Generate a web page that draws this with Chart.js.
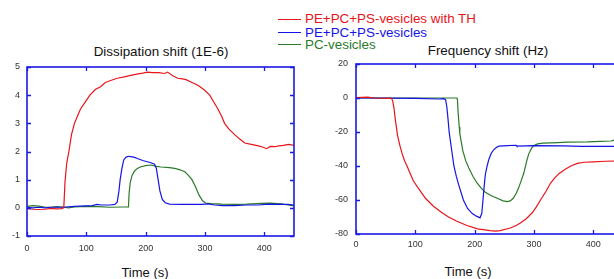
<!DOCTYPE html>
<html>
<head>
<meta charset="utf-8">
<script src="https://cdn.jsdelivr.net/npm/chart.js@4.4.1/dist/chart.umd.min.js"></script>
<style>
  html, body { margin: 0; padding: 0; width: 614px; height: 279px; overflow: hidden; background: #fff; }
  body { position: relative; font-family: "Liberation Sans", Arial, sans-serif; }
  .box { position: absolute; top: 0; }
  .txt { position: absolute; white-space: nowrap; color: #111; line-height: 1; transform: translate(-50%, -50%); }
  .leg { position: absolute; left: 278px; font-size: 13.4px; line-height: 1; white-space: nowrap; }
  .leg i { position: absolute; left: 0; width: 23px; height: 0; border-top: 1.5px solid; top: -0.5px; }
  .leg span { position: absolute; left: 27px; top: 0; transform: translateY(-50%); }
</style>
</head>
<body>

<div class="txt" style="left:161px; top:52px; font-size:13.4px;">Dissipation shift (1E-6)</div>
<div class="txt" style="left:488px; top:51px; font-size:13.4px;">Frequency shift (Hz)</div>
<div class="txt" style="left:145px; top:272px; font-size:13px;">Time (s)</div>
<div class="txt" style="left:468px; top:271px; font-size:13px;">Time (s)</div>

<div class="leg" style="top:19px;"><i style="border-color:#e8141a"></i><span style="color:#e8141a">PE+PC+PS-vesicles with TH</span></div>
<div class="leg" style="top:32.5px;"><i style="border-color:#1414e6"></i><span style="color:#1414e6">PE+PC+PS-vesicles</span></div>
<div class="leg" style="top:44.5px;"><i style="border-color:#2a7a2a"></i><span style="color:#2a7a2a">PC-vesicles</span></div>

<div class="box" style="left:0;"><canvas id="chartDiss" width="310" height="279"></canvas></div>
<div class="box" style="left:310px;"><canvas id="chartFreq" width="330" height="279"></canvas></div>

<script>
// ---------------- data ----------------
const X_TICKS = [0, 100, 200, 300, 400];
const DISS_TICKS = [-1, 0, 1, 2, 3, 4, 5];
const FREQ_TICKS = [-80, -60, -40, -20, 0, 20];

// Dissipation shift, PE+PC+PS-vesicles with TH
const dissThT = [0, 10, 20, 30, 40, 50, 58, 62, 64, 67, 70.6, 75, 80, 85, 90, 98, 106, 115, 124, 132, 141, 152, 164, 175, 185, 195, 203, 212, 222, 232, 237, 245, 254, 262, 268, 278, 288, 298, 308, 315, 322, 328, 333, 340, 350, 358, 367, 378, 390, 398, 404, 410, 418, 424, 432, 441, 450];
const dissThY = [-0.02, -0.05, -0.06, -0.05, -0.02, -0.04, -0.03, 0.0, 0.9, 1.6, 2.0, 2.6, 3.0, 3.25, 3.5, 3.75, 4.0, 4.2, 4.3, 4.45, 4.52, 4.6, 4.65, 4.7, 4.75, 4.78, 4.82, 4.8, 4.8, 4.77, 4.82, 4.7, 4.6, 4.58, 4.55, 4.45, 4.35, 4.2, 4.0, 3.75, 3.5, 3.25, 3.0, 2.8, 2.6, 2.45, 2.3, 2.25, 2.2, 2.15, 2.1, 2.18, 2.17, 2.2, 2.22, 2.25, 2.22];

// Dissipation shift, PE+PC+PS-vesicles
const dissPsT = [0, 10, 20, 30, 40, 60, 80, 100, 110, 118, 125, 140, 148, 152, 155, 157, 160, 163, 167, 172, 180, 186, 195, 209, 215, 218, 221, 224, 228, 233, 240, 260, 280, 294, 305, 316, 330, 350, 370, 390, 407, 420, 440, 450];
const dissPsY = [0.02, 0.0, 0.02, 0.0, 0.02, 0.02, 0.05, 0.07, 0.08, 0.12, 0.1, 0.1, 0.12, 0.2, 0.6, 1.0, 1.4, 1.7, 1.8, 1.83, 1.8, 1.75, 1.68, 1.6, 1.55, 1.4, 1.0, 0.6, 0.3, 0.18, 0.13, 0.12, 0.12, 0.12, 0.14, 0.1, 0.08, 0.08, 0.1, 0.1, 0.13, 0.12, 0.12, 0.1];

// Dissipation shift, PC-vesicles
const dissPcT = [0, 10, 20, 30, 40, 50, 60, 70, 80, 100, 120, 140, 160, 171, 172, 174, 177, 181, 186, 192, 200, 209, 218, 226, 240, 249, 258, 266, 272, 278, 284, 290, 296, 301, 310, 328, 350, 370, 395, 410, 429, 440, 450];
const dissPcY = [0.05, 0.08, 0.06, 0.03, 0.02, 0.04, 0.03, 0.0, 0.03, 0.05, 0.04, 0.02, 0.03, 0.03, 0.5, 0.9, 1.15, 1.3, 1.4, 1.46, 1.5, 1.52, 1.47, 1.45, 1.43, 1.4, 1.35, 1.28, 1.15, 1.0, 0.75, 0.45, 0.25, 0.17, 0.15, 0.13, 0.12, 0.13, 0.16, 0.17, 0.14, 0.1, 0.07];

// Frequency shift, PE+PC+PS-vesicles with TH
const freqThT = [0, 20, 30, 60, 62, 64, 66, 68, 70, 74, 78, 82, 86, 92, 97, 105, 117, 130, 145, 156, 170, 187, 205, 226, 235, 243, 260, 270, 277, 287, 297, 304, 311, 320, 328, 335, 342, 352, 362, 373, 384, 400, 420, 450];
const freqThY = [0.2, 0.5, 0, -0.2, -2, -6, -12, -17, -22, -28, -33, -37, -40, -45, -49, -53, -59, -63.5, -67.5, -70, -72.5, -75, -77, -78, -78.3, -78, -76.5, -75, -73.5, -71, -67.5, -64, -60, -55, -50, -47, -44.5, -42, -40, -38.5, -37.8, -37.6, -37.2, -37];

// Frequency shift, PE+PC+PS-vesicles
const freqPsT = [0, 20, 100, 140, 148, 151, 153, 155, 157, 161, 165, 169, 173, 181, 188, 196, 203, 209, 212, 214, 216, 218, 221, 224, 228, 232, 237, 241, 255, 270, 271, 300, 350, 380, 400, 450];
const freqPsY = [0, 0, -0.2, -0.6, -0.4, -1, -5, -12, -20, -30, -40, -46, -51, -60, -65, -68, -69.5, -70.5, -68, -60, -52, -45, -40, -36, -32.5, -30.5, -29, -28.3, -28, -27.8, -28.3, -28, -28.2, -28.5, -28.4, -28.5];

// Frequency shift, PC-vesicles
const freqPcT = [0, 100, 170, 171, 172, 174, 175, 178, 180, 185, 190, 197, 204, 211, 218, 228, 238, 248, 255, 260, 265, 270, 274, 279, 283, 287, 291, 296, 300, 306, 315, 340, 356, 390, 412, 430, 435, 450];
const freqPcY = [0, 0, 0, -1, -8, -17, -21, -27, -31, -37, -41, -46, -50, -53, -55.5, -57.5, -59, -60.5, -61, -60.5, -59, -56, -53, -48, -44, -38, -33, -29.5, -28, -27, -26.5, -26.2, -26, -25.8, -25.5, -25.3, -24.8, -24.7];

const COLORS = { th: '#e8141a', ps: '#1414e6', pc: '#2a7a2a' };
const FRAME = '#1a1ae6';

// ---------------- helpers ----------------
const pts = (t, y) => t.map((v, i) => ({ x: v, y: y[i] }));

function series(t, y, color) {
    return {
        data: pts(t, y),
        borderColor: color,
        borderWidth: 1.2,
        pointRadius: 0,
        showLine: true,
        tension: 0
    };
}

// frame + inward ticks on all four sides
const framePlugin = {
    id: 'frame',
    afterDraw(chart) {
        const { ctx, chartArea: a, scales: { x, y } } = chart;
        ctx.save();
        ctx.strokeStyle = FRAME;
        ctx.lineWidth = 1.6;
        ctx.strokeRect(a.left, a.top, a.right - a.left, a.bottom - a.top);
        ctx.lineWidth = 1.3;
        ctx.beginPath();
        x.ticks.forEach(t => {
            const px = Math.round(x.getPixelForValue(t.value)) + 0.5;
            ctx.moveTo(px, a.bottom); ctx.lineTo(px, a.bottom - 4);
            ctx.moveTo(px, a.top); ctx.lineTo(px, a.top + 4);
        });
        y.ticks.forEach(t => {
            const py = Math.round(y.getPixelForValue(t.value)) + 0.5;
            ctx.moveTo(a.left, py); ctx.lineTo(a.left + 4, py);
            ctx.moveTo(a.right, py); ctx.lineTo(a.right - 4, py);
        });
        ctx.stroke();
        ctx.restore();
    }
};

function makeChart(id, datasets, yTicks, o) {
    const canvas = document.getElementById(id);
    const tickFont = { family: '"Liberation Sans", Arial, sans-serif', size: 9 };
    return new Chart(canvas.getContext('2d'), {
        type: 'scatter',
        data: { datasets },
        options: {
            responsive: false,
            animation: false,
            events: [],
            layout: { padding: o.padding },
            plugins: { legend: { display: false }, tooltip: { enabled: false } },
            scales: {
                x: {
                    type: 'linear', min: 0, max: 450,
                    grid: { display: false, drawTicks: false },
                    border: { display: false },
                    afterBuildTicks: s => { s.ticks = X_TICKS.map(v => ({ value: v })); },
                    afterFit: s => { s.height = o.xHeight; },
                    ticks: { color: '#333', font: tickFont, padding: o.xPad, maxRotation: 0 }
                },
                y: {
                    type: 'linear', min: yTicks[0], max: yTicks[yTicks.length - 1],
                    grid: { display: false, drawTicks: false },
                    border: { display: false },
                    afterBuildTicks: s => { s.ticks = yTicks.map(v => ({ value: v })); },
                    afterFit: s => { s.width = o.yWidth; },
                    ticks: { color: '#333', font: tickFont, padding: o.yPad }
                }
            }
        },
        plugins: [framePlugin]
    });
}

makeChart('chartDiss', [
    series(dissThT, dissThY, COLORS.th),
    series(dissPsT, dissPsY, COLORS.ps),
    series(dissPcT, dissPcY, COLORS.pc)
], DISS_TICKS, { padding: { left: 0, right: 16, top: 67, bottom: 23 }, xHeight: 20, yWidth: 27, xPad: 7, yPad: 7 });

makeChart('chartFreq', [
    series(freqThT, freqThY, COLORS.th),
    series(freqPsT, freqPsY, COLORS.ps),
    series(freqPcT, freqPcY, COLORS.pc)
], FREQ_TICKS, { padding: { left: 0, right: 17, top: 64, bottom: 25 }, xHeight: 20, yWidth: 46, xPad: 5, yPad: 8 });
</script>
</body>
</html>
